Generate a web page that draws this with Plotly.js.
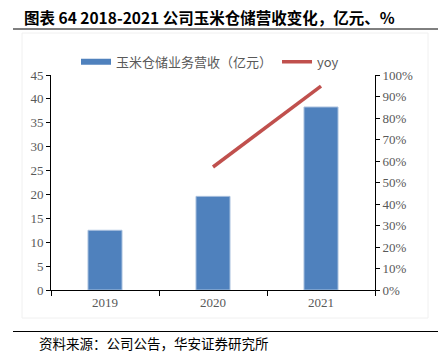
<!DOCTYPE html>
<html>
<head>
<meta charset="utf-8">
<script src="https://cdn.plot.ly/plotly-3.0.1.min.js"></script>
<style>
html,body{margin:0;padding:0;background:#fff;}
#chart{width:438px;height:358px;}
</style>
</head>
<body>
<div id="chart"></div>
<script>
// Data
var years = ['2019', '2020', '2021'];
var revenue = [12.5, 19.6, 38.3];          // 玉米仓储业务营收（亿元）
var yoy = [null, 0.572, 0.948];            // yoy
var barName = '玉米仓储业务营收（亿元）';
var lineName = 'yoy';
var yLeftTicks = [0, 5, 10, 15, 20, 25, 30, 35, 40, 45];
var yRightTicks = [0, 0.1, 0.2, 0.3, 0.4, 0.5, 0.6, 0.7, 0.8, 0.9, 1.0];

var BLUE = '#4f81bd';
var RED = '#c0504d';
var GRAY = '#595959';
var SERIF = '"Liberation Serif", "Times New Roman", serif';
var CJK = '"Noto Sans CJK SC", sans-serif';

var traces = [
  {
    type: 'bar', x: years, y: revenue, name: barName,
    marker: {color: BLUE, line: {color: '#a9c0de', width: 1}},
    showlegend: false, yaxis: 'y', hoverinfo: 'skip'
  },
  {
    // legend entry for the bars (flat swatch as in the reference)
    type: 'scatter', mode: 'lines', x: [null], y: [null], name: barName,
    line: {color: BLUE, width: 6}, showlegend: true, yaxis: 'y'
  },
  {
    type: 'scatter', mode: 'lines', x: years, y: yoy, name: lineName,
    line: {color: RED, width: 3.5}, yaxis: 'y2', connectgaps: false
  }
];

function px2x(p){ return (p - 51) / 324; }
function px2y(p){ return (290 - p) / 215; }

var layout = {
  width: 438, height: 358,
  margin: {l: 51, r: 63, t: 75, b: 68},
  paper_bgcolor: '#ffffff', plot_bgcolor: '#ffffff',
  bargap: 0.685,
  showlegend: true,
  legend: {
    orientation: 'h', x: px2x(76), y: px2y(61.7), xanchor: 'left', yanchor: 'middle',
    font: {family: CJK, size: 13, color: GRAY},
    bgcolor: 'rgba(0,0,0,0)',
    traceorder: 'normal'
  },
  xaxis: {
    type: 'category', showline: true, linecolor: '#000', linewidth: 1,
    ticks: 'outside', tickson: 'boundaries', ticklen: 5, tickcolor: '#000',
    showgrid: false, zeroline: false,
    tickfont: {family: SERIF, size: 13, color: GRAY}
  },
  yaxis: {
    range: [0, 45], tickvals: yLeftTicks, showline: true, linecolor: '#000', linewidth: 1,
    ticks: 'outside', ticklen: 4, tickcolor: '#000', showgrid: false, zeroline: false,
    tickfont: {family: SERIF, size: 13, color: GRAY}, fixedrange: true
  },
  yaxis2: {
    range: [0, 1], tickvals: yRightTicks, tickformat: '.0%', overlaying: 'y', side: 'right',
    showline: true, linecolor: '#000', linewidth: 1,
    ticks: 'outside', ticklen: 4, tickcolor: '#000', showgrid: false, zeroline: false,
    tickfont: {family: SERIF, size: 13, color: GRAY}
  },
  shapes: [
    {type: 'rect', xref: 'paper', yref: 'paper', x0: px2x(22), x1: px2x(428), y0: px2y(33), y1: px2y(318),
     line: {color: '#f0f0f0', width: 1}, fillcolor: 'rgba(0,0,0,0)', layer: 'below'},
    {type: 'line', xref: 'paper', yref: 'paper', x0: px2x(13), x1: px2x(438), y0: px2y(29), y1: px2y(29),
     line: {color: '#000', width: 1}},
    {type: 'line', xref: 'paper', yref: 'paper', x0: px2x(13), x1: px2x(438), y0: px2y(331.5), y1: px2y(331.5),
     line: {color: '#000', width: 1}}
  ],
  annotations: [
    {xref: 'paper', yref: 'paper', x: px2x(22), y: px2y(17), xanchor: 'left', yanchor: 'middle',
     text: '<b>图表 64 2018-2021 公司玉米仓储营收变化，亿元、%</b>', showarrow: false,
     font: {family: CJK, size: 15.5, color: '#000'}},
    {xref: 'paper', yref: 'paper', x: px2x(37), y: px2y(343), xanchor: 'left', yanchor: 'middle',
     text: '资料来源：公司公告，华安证券研究所', showarrow: false,
     font: {family: CJK, size: 13.5, color: '#000'}}
  ]
};

Plotly.newPlot('chart', traces, layout, {displayModeBar: false, staticPlot: true});
</script>
</body>
</html>
